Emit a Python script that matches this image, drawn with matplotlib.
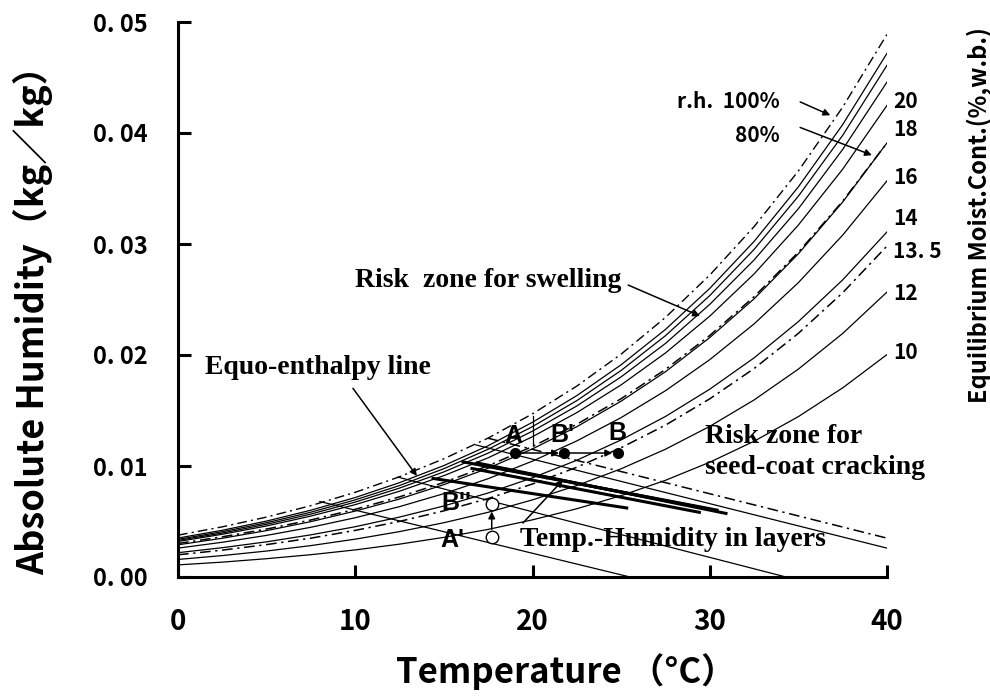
import matplotlib
matplotlib.use("Agg")
import matplotlib.pyplot as plt

# ---------------- data ----------------
temps = [0, 2.5, 5, 7.5, 10, 12.5, 15, 17.5, 20, 22.5, 25, 27.5, 30, 32.5, 35, 37.5, 40]

rh100 = [0.00377, 0.00452, 0.00540, 0.00643, 0.00763, 0.00903, 0.01065, 0.01252, 0.01470,
         0.01720, 0.02008, 0.02338, 0.02720, 0.03156, 0.03658, 0.04233, 0.04889]
rh80 = [0.00302, 0.00362, 0.00432, 0.00514, 0.00610, 0.00722, 0.00852, 0.01002, 0.01176,
        0.01376, 0.01606, 0.01870, 0.02176, 0.02525, 0.02926, 0.03386, 0.03911]

emc_upper_a = [0.00351, 0.00421, 0.00504, 0.00602, 0.00716, 0.00850, 0.01004, 0.01183, 0.01394,
               0.01634, 0.01912, 0.02230, 0.02600, 0.03023, 0.03515, 0.04076, 0.04718]
emc_upper_b = [0.00339, 0.00408, 0.00489, 0.00584, 0.00695, 0.00824, 0.00976, 0.01151, 0.01355,
               0.01589, 0.01861, 0.02174, 0.02535, 0.02951, 0.03431, 0.03979, 0.04610]
emc_upper_c = [0.00330, 0.00396, 0.00475, 0.00567, 0.00675, 0.00801, 0.00947, 0.01116, 0.01314,
               0.01541, 0.01803, 0.02104, 0.02456, 0.02856, 0.03318, 0.03852, 0.04459]
emc20 = [0.00320, 0.00385, 0.00460, 0.00549, 0.00652, 0.00773, 0.00913, 0.01074, 0.01264,
         0.01481, 0.01731, 0.02018, 0.02350, 0.02730, 0.03171, 0.03674, 0.04249]
emc18 = [0.00290, 0.00349, 0.00418, 0.00499, 0.00594, 0.00703, 0.00832, 0.00980, 0.01154,
         0.01354, 0.01584, 0.01849, 0.02157, 0.02506, 0.02912, 0.03378, 0.03911]
emc16 = [0.00260, 0.00313, 0.00375, 0.00448, 0.00534, 0.00634, 0.00751, 0.00886, 0.01044,
         0.01226, 0.01436, 0.01678, 0.01958, 0.02280, 0.02652, 0.03080, 0.03569]
emc14 = [0.00219, 0.00264, 0.00317, 0.00380, 0.00453, 0.00540, 0.00640, 0.00757, 0.00894,
         0.01052, 0.01235, 0.01446, 0.01692, 0.01974, 0.02301, 0.02677, 0.03109]
emc135 = [0.00200, 0.00242, 0.00292, 0.00350, 0.00420, 0.00501, 0.00596, 0.00707, 0.00838,
          0.00989, 0.01165, 0.01368, 0.01605, 0.01878, 0.02195, 0.02561, 0.02982]
emc12 = [0.00158, 0.00193, 0.00234, 0.00283, 0.00341, 0.00409, 0.00489, 0.00583, 0.00695,
         0.00824, 0.00975, 0.01151, 0.01357, 0.01595, 0.01873, 0.02194, 0.02567]
emc10 = [0.00109, 0.00134, 0.00165, 0.00201, 0.00244, 0.00296, 0.00357, 0.00429, 0.00515,
         0.00615, 0.00733, 0.00871, 0.01034, 0.01223, 0.01445, 0.01704, 0.02004]

curve_labels = ["20", "18", "16", "14", "13. 5", "12", "10"]
curve_label_y = [0.0428, 0.0403, 0.0360, 0.0323, 0.0293, 0.0255, 0.0202]

# equo-enthalpy lines (T, x) start/end
enth_T = [[8.0, 25.5], [12.4, 34.3], [16.8, 40.0]]
enth_x = [[0.0068, 0.0], [0.0090, 0.0], [0.0119, 0.0026]]
enth_dd_T = [17.5, 40.0]
enth_dd_x = [0.0125, 0.0035]

# temperature-humidity in layers (thick lines)
layer_T = [[14.3, 25.4], [16.0, 30.5], [16.8, 31.0], [17.5, 30.0], [16.5, 29.5]]
layer_x = [[0.0089, 0.0062], [0.0104, 0.0060], [0.0103, 0.0057], [0.0100, 0.0061], [0.0098, 0.0058]]

vert_T = [20.0, 20.0]
vert_x = [0.0118, 0.0145]

pts_filled_T = [19.0, 21.8, 24.8]
pts_filled_x = [0.01117, 0.01117, 0.01117]
pts_open_T = [17.7, 17.7]
pts_open_x = [0.0036, 0.0066]

xticks = [0, 10, 20, 30, 40]
yticks = [0.0, 0.01, 0.02, 0.03, 0.04, 0.05]
ytick_labels = ["0. 00", "0. 01", "0. 02", "0. 03", "0. 04", "0. 05"]

# ---------------- figure ----------------
W, H = 990, 697
fig = plt.figure(figsize=(W / 100, H / 100), dpi=100)
ax = fig.add_axes([178 / W, (H - 577) / H, 709 / W, 555 / H])
ax.set_xlim(0, 40)
ax.set_ylim(0, 0.05)

gothic = ['Noto Sans CJK JP', 'DejaVu Sans']
serif = 'Liberation Serif'

dd = (0, (7, 3, 1.5, 3))
k = 'black'

ax.plot(temps, rh100, color=k, lw=1.0, linestyle=dd)
ax.plot(temps, rh80, color=k, lw=1.1, linestyle=dd)
for c in [emc_upper_a, emc_upper_b, emc_upper_c, emc20, emc18, emc16, emc14, emc12, emc10]:
    ax.plot(temps, c, color=k, lw=0.9)
ax.plot(temps, emc135, color=k, lw=1.1, linestyle=dd)

for tt, xx in zip(enth_T, enth_x):
    ax.plot(tt, xx, color=k, lw=0.9)
ax.plot(enth_dd_T, enth_dd_x, color=k, lw=1.1, linestyle=dd)

for tt, xx in zip(layer_T, layer_x):
    ax.plot(tt, xx, color=k, lw=2.2, solid_capstyle='butt')

ax.plot(vert_T, vert_x, color=k, lw=0.9)

ax.plot(pts_filled_T, pts_filled_x, 'o', color=k, ms=7)
ax.plot(pts_open_T, pts_open_x, 'o', mfc='white', mec=k, mew=1.0, ms=9)

arr = dict(arrowstyle='-|>', color=k, lw=1.1, mutation_scale=10, shrinkA=0, shrinkB=0)
# A -> B' -> B
ax.annotate('', xy=(pts_filled_T[1] - 0.3, pts_filled_x[1]), xytext=(pts_filled_T[0], pts_filled_x[0]), arrowprops=arr)
ax.annotate('', xy=(pts_filled_T[2] - 0.3, pts_filled_x[2]), xytext=(pts_filled_T[1], pts_filled_x[1]), arrowprops=arr)
# A' -> B''
ax.annotate('', xy=(pts_open_T[1], pts_open_x[1] - 0.0007), xytext=(pts_open_T[0], pts_open_x[0] + 0.0007), arrowprops=arr)

# point labels
plab = dict(fontsize=18, fontweight='bold', family=['Liberation Sans', 'DejaVu Sans'], ha='center', va='center')
ax.text(18.9, 0.0127, "A", **plab)
ax.text(21.7, 0.0128, "B'", **plab)
ax.text(24.77, 0.0130, "B", **plab)
ax.text(15.5, 0.0033, "A'", **plab)
ax.text(15.7, 0.0067, "B''", **plab)

# annotations
ser = dict(fontsize=20, fontweight='bold', family=serif, va='center')
ax.text(10.0, 0.02667, "Risk  zone for swelling", **ser)
ax.annotate('', xy=(29.45, 0.02351), xytext=(25.4, 0.0263), arrowprops=arr)
ax.text(1.52, 0.01883, "Equo-enthalpy line", **ser)
ax.annotate('', xy=(13.48, 0.0091), xytext=(9.87, 0.0170), arrowprops=arr)
ax.text(29.73, 0.0127, "Risk zone for", **ser)
ax.text(29.73, 0.00982, "seed-coat cracking", **ser)
ax.text(19.29, 0.00342, "Temp.-Humidity in layers", **ser)
ax.annotate('', xy=(21.72, 0.00874), xytext=(19.46, 0.00486), arrowprops=arr)

# r.h. labels
rhf = dict(fontsize=15, fontweight='bold', family=gothic, ha='right', va='center')
ax.text(33.96, 0.0428, "r.h.  100%", **rhf)
ax.text(33.96, 0.0398, "80%", **rhf)
ax.annotate('', xy=(36.8, 0.0416), xytext=(35.1, 0.0428), arrowprops=arr)
ax.annotate('', xy=(39.15, 0.0380), xytext=(35.1, 0.0405), arrowprops=arr)

for lab, yy in zip(curve_labels, curve_label_y):
    ax.text(40.34, yy, lab, fontsize=15, fontweight='bold', family=gothic,
            ha='left', va='center', clip_on=False)

# axes styling
for s in ['top', 'right']:
    ax.spines[s].set_visible(False)
for s in ['left', 'bottom']:
    ax.spines[s].set_linewidth(2.2)
ax.set_xticks(xticks)
ax.set_xticklabels([str(t) for t in xticks], fontsize=20, fontweight='bold', family=gothic)
ax.set_yticks(yticks)
ax.set_yticklabels(ytick_labels, fontsize=17, fontweight='bold', family=gothic)
ax.tick_params(direction='in', length=9, width=2.2)
ax.tick_params(axis='y', pad=22)
ax.tick_params(axis='x', pad=22)

fig.text(33 / W, 1 - 312 / H, "Absolute Humidity（kg／kg）", rotation=90, fontsize=26,
         fontweight='bold', family=gothic, ha='center', va='center')
fig.text(566 / W, 1 - 672 / H, "Temperature （°C）", fontsize=25, fontweight='bold',
         family=gothic, ha='center', va='center')
fig.text(979 / W, 1 - 215 / H, "Equilibrium Moist.Cont.(%,w.b.)", rotation=90, fontsize=17,
         fontweight='bold', family=gothic, ha='center', va='center')

fig.savefig("out.png", dpi=100)
